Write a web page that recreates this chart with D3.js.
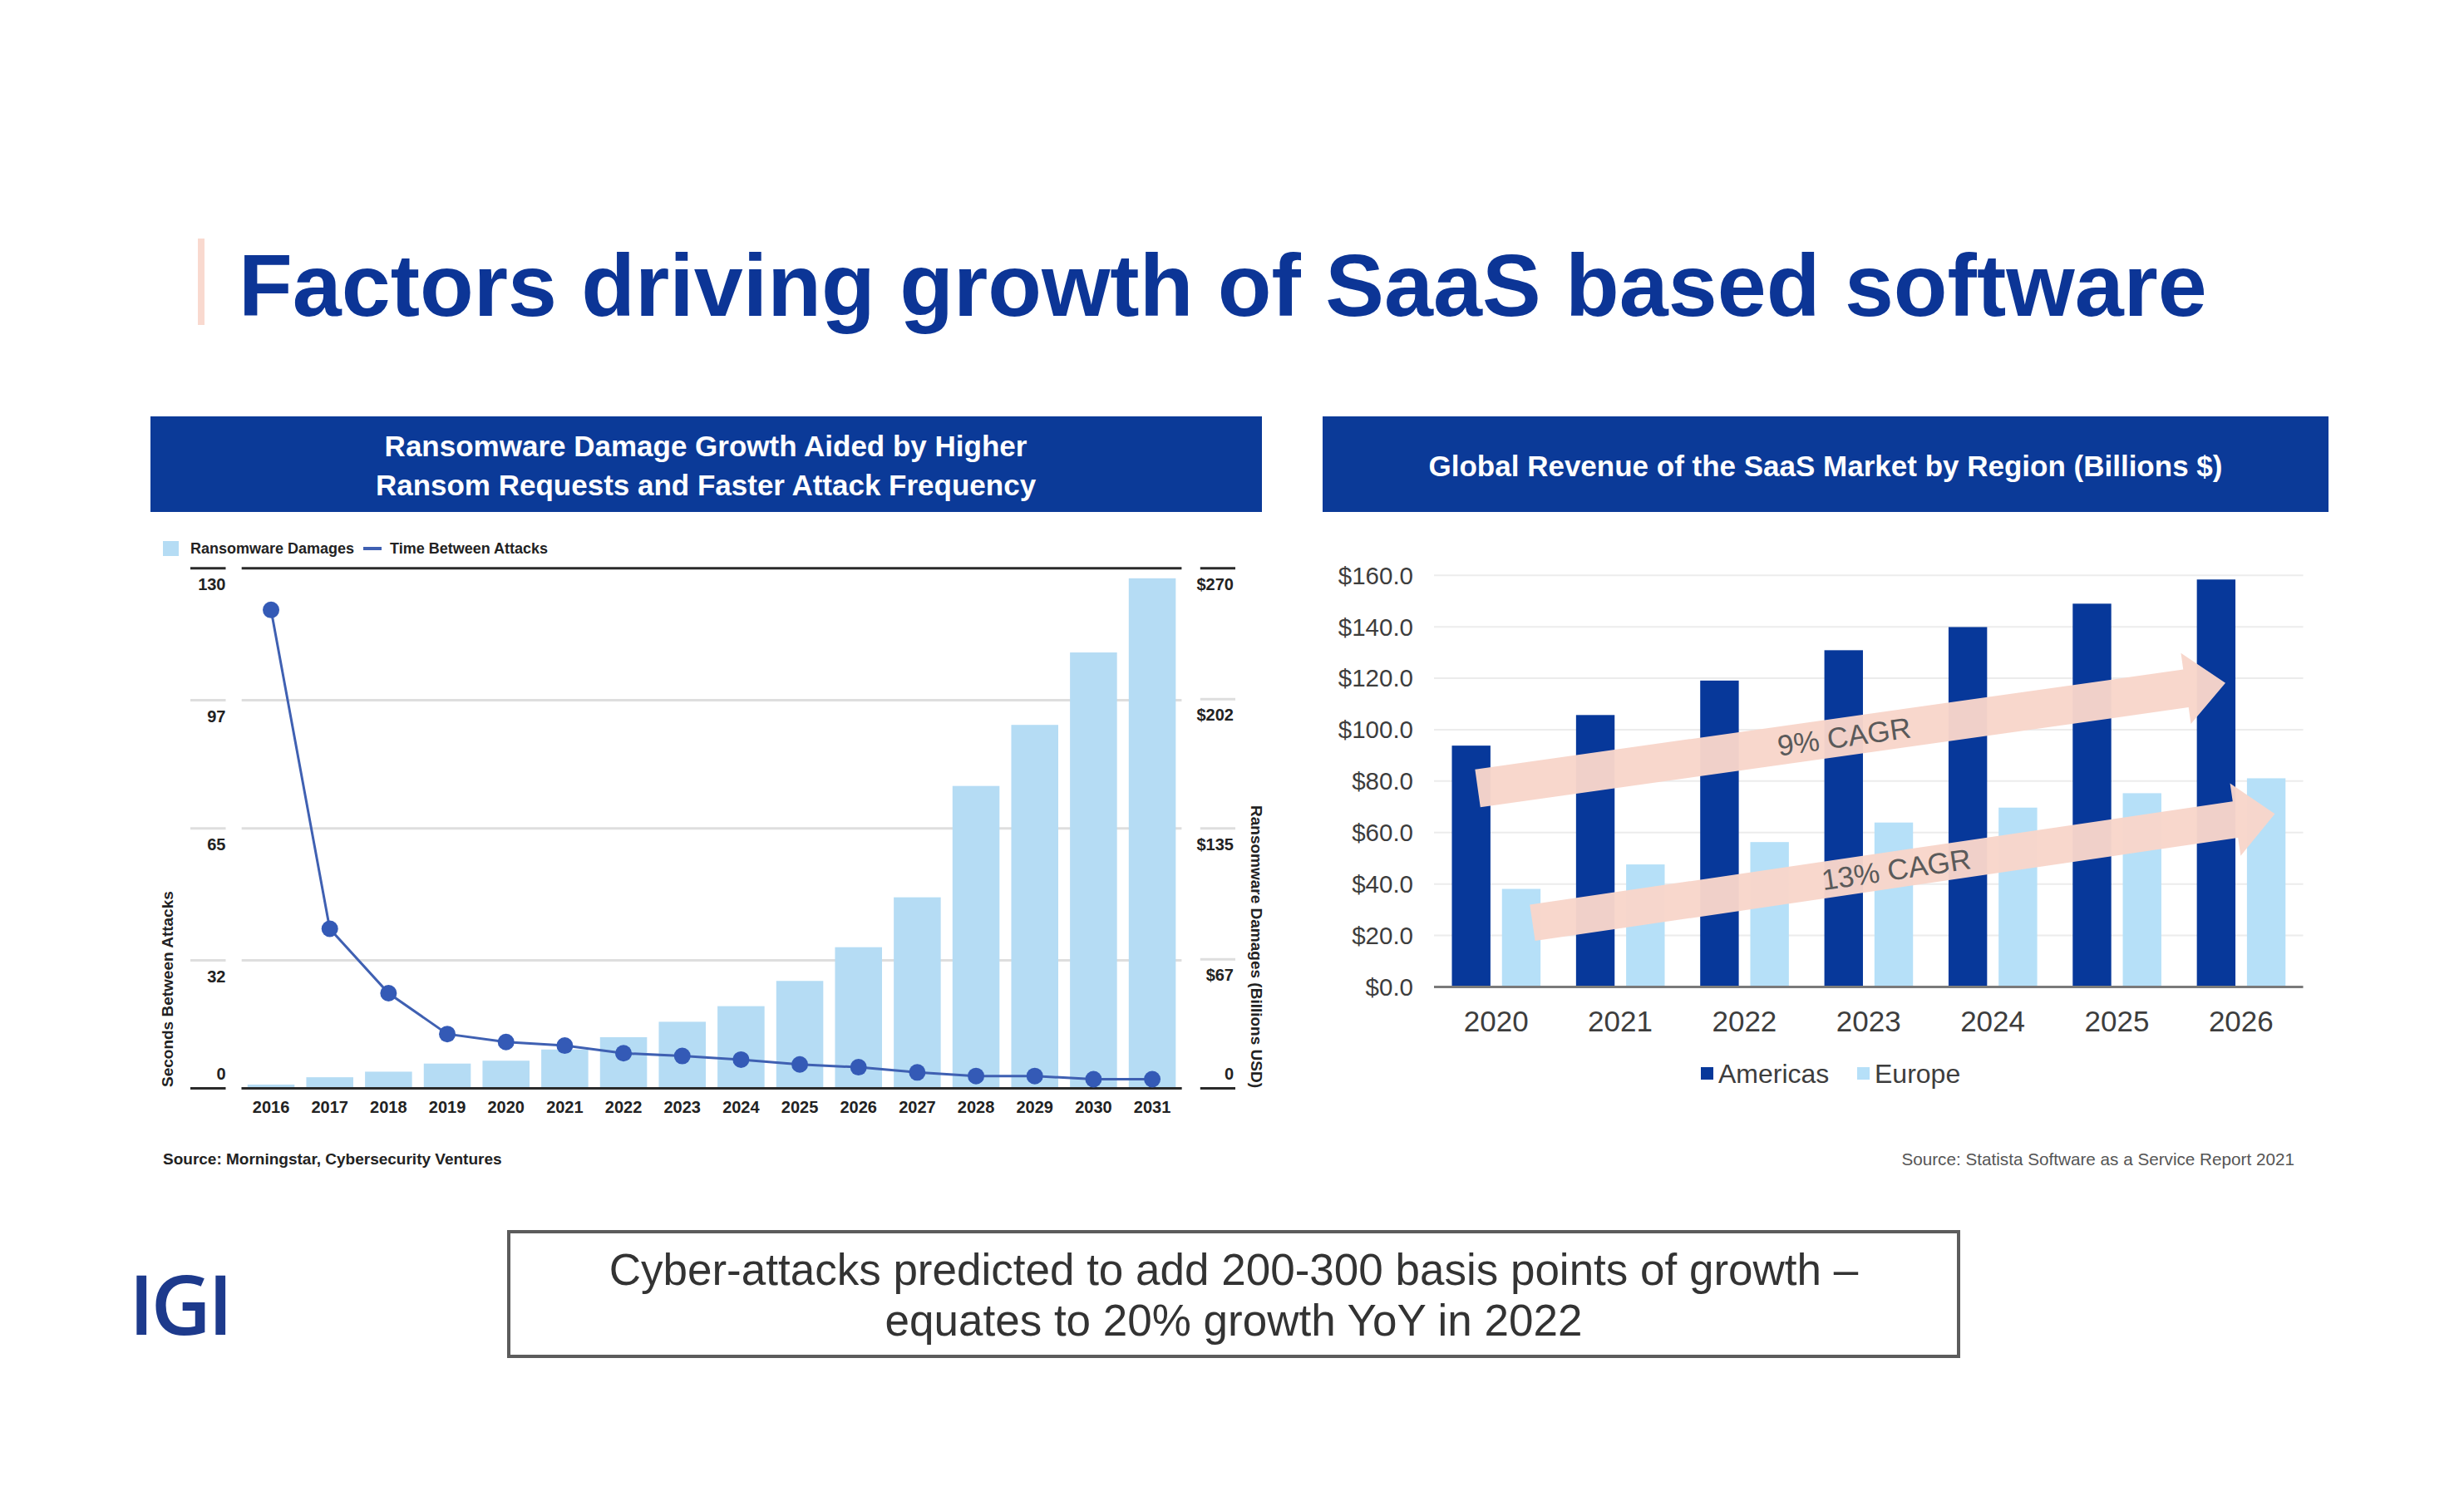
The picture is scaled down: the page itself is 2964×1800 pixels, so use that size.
<!DOCTYPE html>
<html><head><meta charset="utf-8">
<script src="https://cdn.jsdelivr.net/npm/d3@7"></script>
<style>html,body{margin:0;padding:0;background:#fff;}svg{display:block;}</style>
</head><body>
<script>
// ---------- DATA ----------
const pageTitle = "Factors driving growth of SaaS based software";
const leftHeader = ["Ransomware Damage Growth Aided by Higher", "Ransom Requests and Faster Attack Frequency"];
const rightHeader = "Global Revenue of the SaaS Market by Region (Billions $)";

const years = ["2016","2017","2018","2019","2020","2021","2022","2023","2024","2025","2026","2027","2028","2029","2030","2031"];
const ransomDamages = [2, 5.8, 8.7, 12.9, 14.4, 20.2, 26.6, 34.6, 42.7, 55.8, 73.3, 99.2, 157, 188.7, 226.3, 264.8];
const timeBetweenAttacks = [119.6, 39.9, 23.8, 13.6, 11.6, 10.7, 8.8, 8.1, 7.2, 6.0, 5.3, 4.0, 3.1, 3.1, 2.3, 2.3];
const leftTicks = [0, 32, 65, 97, 130];
const rightTicks = [0, 67, 135, 202, 270];
const rightTickLabels = ["0", "$67", "$135", "$202", "$270"];
const leftSeriesNames = ["Ransomware Damages", "Time Between Attacks"];
const leftAxisTitle = "Seconds Between Attacks";
const rightAxisTitle = "Ransomware Damages (Billions USD)";
const leftSource = "Source: Morningstar, Cybersecurity Ventures";

const saasYears = ["2020","2021","2022","2023","2024","2025","2026"];
const regions = ["Americas", "Europe"];
const americas = [93.8, 105.7, 119.1, 130.9, 139.9, 149.0, 158.4];
const europe = [38.1, 47.6, 56.3, 63.9, 69.7, 75.3, 81.1];
const saasTicks = [0, 20, 40, 60, 80, 100, 120, 140, 160];
const cagrLabels = ["9% CAGR", "13% CAGR"];
// arrow endpoints in data units: [category index position, value]
const cagrFrom = [[0.352, 77.2], [0.793, 24.9]];
const cagrTo = [[6.374, 118.2], [6.772, 67.3]];
const rightSource = "Source: Statista Software as a Service Report 2021";

const takeaway = ["Cyber-attacks predicted to add 200-300 basis points of growth \u2013", "equates to 20% growth YoY in 2022"];
const logoText = "IGI";

// ---------- STYLE ----------
const FONT = "'Liberation Sans', Arial, Helvetica, sans-serif";
const NAVY = "#0b3a98";
const W = 2964, H = 1800;

const svg = d3.select("body").append("svg").attr("width", W).attr("height", H)
  .style("font-family", FONT);
svg.append("rect").attr("width", W).attr("height", H).attr("fill", "#fff");

// Title
svg.append("rect").attr("x", 238).attr("y", 287).attr("width", 8).attr("height", 104).attr("fill", "#f9d9cf");
svg.append("text").attr("x", 287).attr("y", 380).attr("font-size", 106).attr("font-weight", "bold")
  .attr("fill", "#0c3596").text(pageTitle);

// Header boxes
svg.append("rect").attr("x", 181).attr("y", 501).attr("width", 1337).attr("height", 115).attr("fill", NAVY);
svg.append("rect").attr("x", 1591).attr("y", 501).attr("width", 1210).attr("height", 115).attr("fill", NAVY);
svg.selectAll(".lh").data(leftHeader).join("text")
  .attr("x", 849).attr("y", (d, i) => 549 + i * 47).attr("text-anchor", "middle")
  .attr("font-size", 35).attr("font-weight", "bold").attr("fill", "#fff").text(d => d);
svg.append("text").attr("x", 2196).attr("y", 573).attr("text-anchor", "middle")
  .attr("font-size", 35).attr("font-weight", "bold").attr("fill", "#fff").text(rightHeader);

// ---------- LEFT CHART ----------
const L = { left: 290.7, right: 1421.4, top: 683.75, bottom: 1309.6 };
const xL = d3.scaleBand().domain(years).range([L.left, L.right]).paddingInner(0.2).paddingOuter(0.1);
const yL = d3.scaleLinear().domain([0, 130]).range([L.bottom, L.top]);
const yR = d3.scaleLinear().domain([0, 270]).range([L.bottom, L.top]);
const gL = svg.append("g");

// gridlines + axis segments
leftTicks.forEach(v => {
  const dark = (v === 0 || v === 130);
  const col = dark ? "#2a2a2a" : "#dedede";
  const y = yL(v);
  gL.append("line").attr("x1", L.left).attr("x2", L.right).attr("y1", y).attr("y2", y)
    .attr("stroke", col).attr("stroke-width", 3);
  gL.append("line").attr("x1", 229).attr("x2", 271.5).attr("y1", y).attr("y2", y)
    .attr("stroke", col).attr("stroke-width", 3);
  gL.append("text").attr("x", 271.5).attr("y", y + (v === 0 ? -18 : 19)).attr("dy", "0.35em")
    .attr("text-anchor", "end").attr("font-size", 20).attr("font-weight", "bold").attr("fill", "#222").text(v);
});
rightTicks.forEach((v, i) => {
  const dark = (v === 0 || v === 270);
  const col = dark ? "#2a2a2a" : "#dedede";
  const y = yR(v);
  gL.append("line").attr("x1", 1443.8).attr("x2", 1486).attr("y1", y).attr("y2", y)
    .attr("stroke", col).attr("stroke-width", 3);
  gL.append("text").attr("x", 1484).attr("y", y + (v === 0 ? -18 : 19)).attr("dy", "0.35em")
    .attr("text-anchor", "end").attr("font-size", 20).attr("font-weight", "bold").attr("fill", "#222").text(rightTickLabels[i]);
});

// bars
gL.selectAll(".rb").data(years).join("rect")
  .attr("x", d => xL(d)).attr("width", xL.bandwidth())
  .attr("y", (d, i) => yR(ransomDamages[i])).attr("height", (d, i) => L.bottom - yR(ransomDamages[i]))
  .attr("fill", "#b5dcf4");
// redraw baseline on top
gL.append("line").attr("x1", L.left).attr("x2", L.right).attr("y1", L.bottom).attr("y2", L.bottom)
  .attr("stroke", "#2a2a2a").attr("stroke-width", 3);

// line
const pts = years.map((d, i) => [xL(d) + xL.bandwidth() / 2, yL(timeBetweenAttacks[i])]);
gL.append("path").attr("d", d3.line()(pts)).attr("fill", "none").attr("stroke", "#3f60b2").attr("stroke-width", 3);
gL.selectAll(".dot").data(pts).join("circle").attr("cx", d => d[0]).attr("cy", d => d[1]).attr("r", 10)
  .attr("fill", "#345ab6");

// x labels
gL.selectAll(".xl").data(years).join("text")
  .attr("x", d => xL(d) + xL.bandwidth() / 2).attr("y", 1339).attr("text-anchor", "middle")
  .attr("font-size", 20).attr("font-weight", "bold").attr("fill", "#222").text(d => d);

// legend
gL.append("rect").attr("x", 196).attr("y", 651).attr("width", 19).attr("height", 18).attr("fill", "#b5dcf4");
gL.append("text").attr("x", 229).attr("y", 660).attr("dy", "0.35em").attr("font-size", 18).attr("font-weight", "bold")
  .attr("fill", "#222").text(leftSeriesNames[0]);
gL.append("rect").attr("x", 437).attr("y", 658).attr("width", 22).attr("height", 4).attr("fill", "#3f60b2");
gL.append("text").attr("x", 469).attr("y", 660).attr("dy", "0.35em").attr("font-size", 18).attr("font-weight", "bold")
  .attr("fill", "#222").text(leftSeriesNames[1]);

// axis titles
gL.append("text").attr("transform", "translate(208,1308) rotate(-90)").attr("text-anchor", "start")
  .attr("font-size", 19).attr("font-weight", "bold").attr("fill", "#222").text(leftAxisTitle);
gL.append("text").attr("transform", "translate(1505,1309) rotate(90)").attr("text-anchor", "end")
  .attr("font-size", 19).attr("font-weight", "bold").attr("fill", "#222").text(rightAxisTitle);

gL.append("text").attr("x", 196).attr("y", 1401).attr("font-size", 19).attr("font-weight", "bold")
  .attr("fill", "#222").text(leftSource);

// ---------- RIGHT CHART ----------
const R = { left: 1725, right: 2770.5, top: 692.3, bottom: 1187.4 };
const x0 = d3.scaleBand().domain(saasYears).range([R.left, R.right]).padding(0);
const x1 = d3.scaleBand().domain(regions).range([x0.bandwidth() * 0.144, x0.bandwidth() * 0.858]).paddingInner(0.23);
const y2 = d3.scaleLinear().domain([0, 160]).range([R.bottom, R.top]);
const xIdx = d3.scaleLinear().domain([0, saasYears.length]).range([R.left, R.right]);
const gR = svg.append("g");
const regionColor = { Americas: "#07389a", Europe: "#b6e0f8" };

saasTicks.forEach(v => {
  if (v > 0) gR.append("line").attr("x1", R.left).attr("x2", R.right).attr("y1", y2(v)).attr("y2", y2(v))
    .attr("stroke", "#ececec").attr("stroke-width", 2);
  gR.append("text").attr("x", 1700).attr("y", y2(v)).attr("dy", "0.35em").attr("text-anchor", "end")
    .attr("font-size", 29.5).attr("fill", "#3d3d3d").text("$" + v.toFixed(1));
});

const grp = gR.selectAll(".grp").data(saasYears).join("g").attr("transform", d => `translate(${x0(d)},0)`);
grp.selectAll("rect").data((d, i) => [{ k: "Americas", v: americas[i] }, { k: "Europe", v: europe[i] }]).join("rect")
  .attr("x", d => x1(d.k)).attr("width", x1.bandwidth())
  .attr("y", d => y2(d.v)).attr("height", d => R.bottom - y2(d.v)).attr("fill", d => regionColor[d.k]);

gR.append("line").attr("x1", R.left).attr("x2", R.right).attr("y1", R.bottom).attr("y2", R.bottom)
  .attr("stroke", "#7a7a7a").attr("stroke-width", 3);

gR.selectAll(".xl2").data(saasYears).join("text")
  .attr("x", d => x0(d) + x0.bandwidth() / 2).attr("y", 1241).attr("text-anchor", "middle")
  .attr("font-size", 35).attr("fill", "#3d3d3d").text(d => d);

// CAGR arrows
const shaftHalf = [23, 22], headHalf = [43, 44], headLen = 48;
cagrLabels.forEach((lab, i) => {
  const p0 = [xIdx(cagrFrom[i][0]), y2(cagrFrom[i][1])];
  const p1 = [xIdx(cagrTo[i][0]), y2(cagrTo[i][1])];
  const dx = p1[0] - p0[0], dy = p1[1] - p0[1], len = Math.hypot(dx, dy);
  const ux = dx / len, uy = dy / len, nx = -uy, ny = ux;
  const hb = [p1[0] - ux * headLen, p1[1] - uy * headLen];
  const s = shaftHalf[i], h = headHalf[i];
  const poly = [
    [p0[0] + nx * s, p0[1] + ny * s], [hb[0] + nx * s, hb[1] + ny * s], [hb[0] + nx * h, hb[1] + ny * h],
    p1,
    [hb[0] - nx * h, hb[1] - ny * h], [hb[0] - nx * s, hb[1] - ny * s], [p0[0] - nx * s, p0[1] - ny * s]
  ];
  gR.append("path").attr("d", "M" + poly.map(p => p.join(",")).join("L") + "Z")
    .attr("fill", "#f8d6ca").attr("fill-opacity", 0.97);
  const t = 0.49;
  const cx = p0[0] + dx * t, cy = p0[1] + dy * t;
  const ang = Math.atan2(dy, dx) * 180 / Math.PI;
  gR.append("text").attr("transform", `translate(${cx},${cy}) rotate(${ang})`)
    .attr("text-anchor", "middle").attr("dy", "0.35em").attr("font-size", 35).attr("fill", "#5a5a5a").text(lab);
});

// legend
const lg = [{ k: "Americas", x: 2046 }, { k: "Europe", x: 2234 }];
lg.forEach(d => {
  gR.append("rect").attr("x", d.x).attr("y", 1284).attr("width", 15).attr("height", 15).attr("fill", regionColor[d.k]);
  gR.append("text").attr("x", d.x + 21).attr("y", 1292).attr("dy", "0.35em").attr("font-size", 32)
    .attr("fill", "#3d3d3d").text(d.k);
});

gR.append("text").attr("x", 2760).attr("y", 1395).attr("dy", "0.35em").attr("text-anchor", "end")
  .attr("font-size", 20.7).attr("fill", "#555").text(rightSource);

// ---------- FOOTER ----------
svg.append("rect").attr("x", 612).attr("y", 1482).attr("width", 1744).attr("height", 150)
  .attr("fill", "#fff").attr("stroke", "#5c5c5c").attr("stroke-width", 4);
svg.selectAll(".tk").data(takeaway).join("text")
  .attr("x", 1484).attr("y", (d, i) => 1546 + i * 61).attr("text-anchor", "middle")
  .attr("font-size", 53).attr("fill", "#333").text(d => d);

svg.append("text").attr("x", 155).attr("y", 1606).attr("font-family", "'Open Sans', 'Noto Sans', sans-serif")
  .attr("font-size", 100).attr("font-weight", 600).attr("letter-spacing", -4).attr("fill", "#1d3a8c").text(logoText);
</script>
</body></html>
